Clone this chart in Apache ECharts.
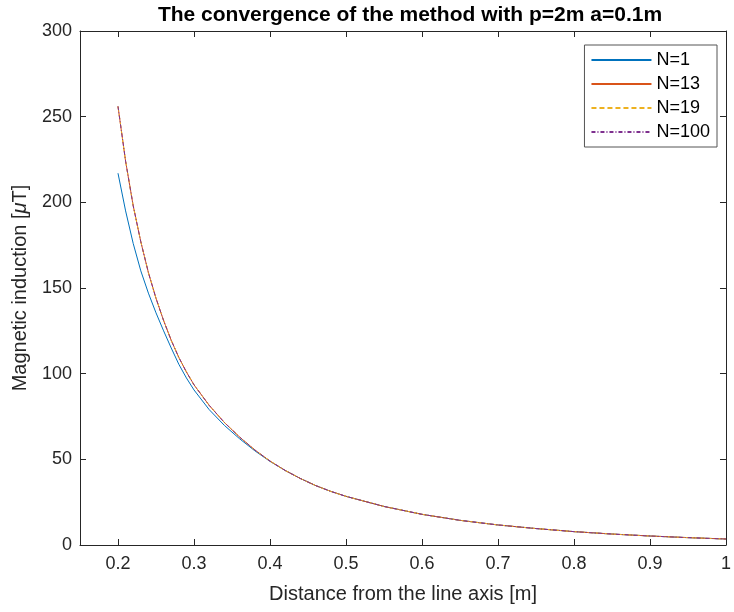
<!DOCTYPE html>
<html>
<head>
<meta charset="utf-8">
<script src="https://cdn.jsdelivr.net/npm/echarts@6/dist/echarts.min.js"></script>
<style>
  html, body { margin: 0; padding: 0; background: #fff; }
  #chart { width: 734px; height: 612px; }
</style>
</head>
<body>
<div id="chart"></div>
<script>
// Distance from the line axis [m]
const distance = [0.20, 0.21, 0.22, 0.23, 0.24, 0.25, 0.26, 0.27, 0.28, 0.29, 0.30,
  0.32, 0.34, 0.36, 0.38, 0.40, 0.42, 0.44, 0.46, 0.48, 0.50,
  0.55, 0.60, 0.65, 0.70, 0.75, 0.80, 0.85, 0.90, 0.95, 1.00];

// Magnetic induction [uT] for each number of terms N
const bN1 = [217, 195, 176, 160, 147, 135.5, 125, 115, 105.5, 97.5, 90.5,
  79, 69.8, 62, 55, 48.8, 43.5, 38.8, 34.7, 31.3, 28.4,
  22.5, 17.9, 14.4, 11.7, 9.6, 7.8, 6.4, 5.25, 4.3, 3.5];
const bN13 = [256, 224, 198, 177, 159, 144, 131, 119.5, 109.5, 101, 93.5,
  81.5, 71.5, 63, 55.5, 49, 43.5, 38.8, 34.7, 31.3, 28.4,
  22.5, 17.9, 14.4, 11.7, 9.6, 7.8, 6.4, 5.25, 4.3, 3.5];
const bN19 = [256, 224, 198, 177, 159, 144, 131, 119.5, 109.5, 101, 93.5,
  81.5, 71.5, 63, 55.5, 49, 43.5, 38.8, 34.7, 31.3, 28.4,
  22.5, 17.9, 14.4, 11.7, 9.6, 7.8, 6.4, 5.25, 4.3, 3.5];
const bN100 = [256, 224, 198, 177, 159, 144, 131, 119.5, 109.5, 101, 93.5,
  81.5, 71.5, 63, 55.5, 49, 43.5, 38.8, 34.7, 31.3, 28.4,
  22.5, 17.9, 14.4, 11.7, 9.6, 7.8, 6.4, 5.25, 4.3, 3.5];

// Tick positions
const xTicks = [0.2, 0.3, 0.4, 0.5, 0.6, 0.7, 0.8, 0.9, 1];
const yTicks = [0, 50, 100, 150, 200, 250, 300];

const FONT = '"Liberation Sans", Arial, Helvetica, sans-serif';
const INK = '#262626';

function pairs(ys) {
  return distance.map((x, i) => [x, ys[i]]);
}

const axisLineStyle = { show: true, lineStyle: { color: INK, width: 1 } };

function xAxisDef(pos, withLabels) {
  return {
    type: 'value', position: pos, min: 0.15, max: 1,
    axisLine: Object.assign({ onZero: false }, axisLineStyle),
    axisTick: { show: true, inside: true, length: 6, customValues: xTicks, lineStyle: { color: INK, width: 1 } },
    axisLabel: {
      show: withLabels, customValues: xTicks, margin: 10,
      color: INK, fontSize: 18, fontFamily: FONT,
      formatter: v => String(Math.round(v * 10) / 10)
    },
    splitLine: { show: false },
    name: withLabels ? 'Distance from the line axis [m]' : '',
    nameLocation: 'middle', nameGap: 39,
    nameTextStyle: { color: INK, fontSize: 20, fontFamily: FONT }
  };
}

function yAxisDef(pos, withLabels) {
  return {
    type: 'value', position: pos, min: 0, max: 300,
    axisLine: Object.assign({ onZero: false }, axisLineStyle),
    axisTick: { show: true, inside: true, length: 6, customValues: yTicks, lineStyle: { color: INK, width: 1 } },
    axisLabel: {
      show: withLabels, customValues: yTicks, margin: 8,
      color: INK, fontSize: 18, fontFamily: FONT
    },
    splitLine: { show: false },
    name: withLabels ? 'Magnetic induction [{mu|μ}T]' : '',
    nameLocation: 'middle', nameGap: 50,
    nameTextStyle: {
      color: INK, fontSize: 20, fontFamily: FONT,
      rich: { mu: { fontStyle: 'italic', fontSize: 20, fontFamily: FONT, color: INK } }
    }
  };
}

function lineSeries(name, ys, color, type) {
  return {
    name: name, type: 'line', data: pairs(ys),
    xAxisIndex: 0, yAxisIndex: 0,
    symbol: 'none', smooth: false,
    lineStyle: { color: color, width: 1, type: type },
    itemStyle: { color: color },
    emphasis: { disabled: true },
    animation: false
  };
}

const chart = echarts.init(document.getElementById('chart'), null, { renderer: 'canvas' });
chart.setOption({
  backgroundColor: '#ffffff',
  animation: false,
  title: {
    text: 'The convergence of the method with p=2m a=0.1m',
    left: 405, top: 0, textAlign: 'center',
    textStyle: { color: '#000', fontSize: 21, fontWeight: 'bold', fontFamily: FONT }
  },
  grid: { left: 80, right: 3, top: 31, bottom: 67 },
  xAxis: [xAxisDef('bottom', true), xAxisDef('top', false)],
  yAxis: [yAxisDef('left', true), yAxisDef('right', false)],
  legend: {
    orient: 'vertical', right: 17, top: 45,
    backgroundColor: '#fff', borderColor: '#555', borderWidth: 1, borderRadius: 0,
    padding: [6, 7, 6, 6],
    itemWidth: 60, itemHeight: 19, itemGap: 6,
    itemStyle: { opacity: 0, borderWidth: 0 },
    textStyle: { color: '#000', fontSize: 18, fontFamily: FONT },
    data: ['N=1', 'N=13', 'N=19', 'N=100']
  },
  series: [
    lineSeries('N=1', bN1, '#0072BD', 'solid'),
    lineSeries('N=13', bN13, '#D95319', 'solid'),
    lineSeries('N=19', bN19, '#EDB120', [5, 3]),
    lineSeries('N=100', bN100, '#7E2F8E', [4, 2, 1, 2])
  ]
});
</script>
</body>
</html>
